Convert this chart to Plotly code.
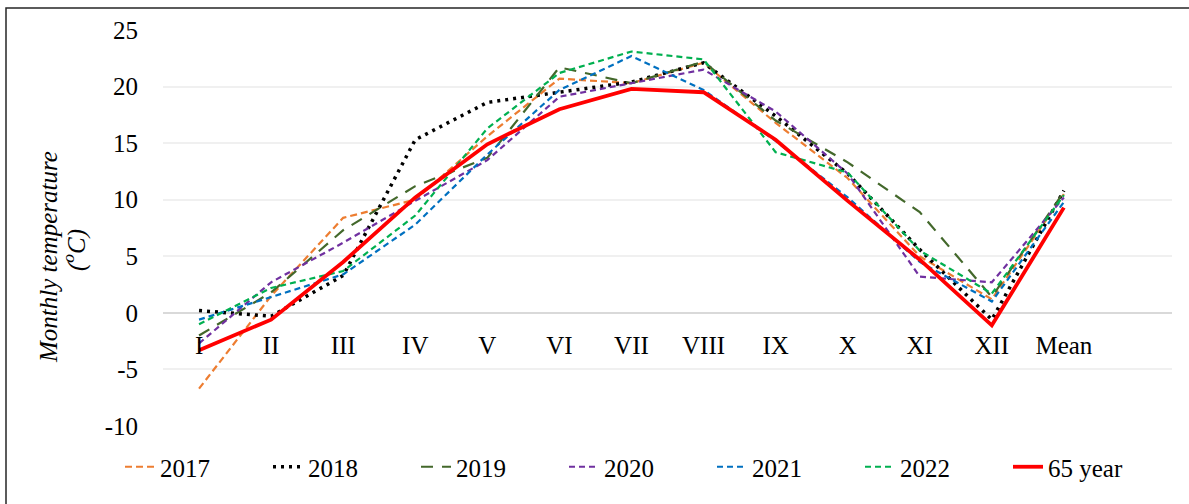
import plotly.graph_objects as go

months = ["I", "II", "III", "IV", "V", "VI", "VII", "VIII", "IX", "X", "XI", "XII", "Mean"]
y_ticks = [-10, -5, 0, 5, 10, 15, 20, 25]
y_tick_text = ["-10", "-5", "0", "5", "10", "15", "20", "25"]

t2017 = [-6.7, 1.5, 8.4, 10.0, 15.6, 20.7, 20.3, 22.1, 16.8, 11.9, 5.0, 1.2, 10.5]
t2018 = [0.2, -0.3, 3.3, 15.3, 18.6, 19.5, 20.4, 22.1, 17.4, 12.3, 5.6, -0.6, 10.8]
t2019 = [-2.0, 1.8, 7.3, 11.2, 13.7, 21.7, 20.3, 22.2, 17.0, 13.3, 8.9, 1.4, 10.7]
t2020 = [-2.7, 2.7, 6.2, 9.9, 13.5, 19.1, 20.3, 21.5, 17.8, 12.3, 3.2, 2.7, 10.2]
t2021 = [-0.6, 1.4, 3.4, 7.8, 14.0, 19.7, 22.7, 19.7, 15.2, 10.2, 4.5, 1.0, 9.8]
t2022 = [-1.0, 2.2, 3.7, 8.6, 16.3, 21.2, 23.1, 22.4, 14.2, 12.4, 5.5, 1.7, 10.4]
t65 = [-3.3, -0.6, 4.5, 10.2, 14.9, 18.0, 19.8, 19.5, 15.3, 9.9, 4.7, -1.1, 9.3]

FONT = "Times New Roman, Liberation Serif, serif"
x = list(range(len(months)))

series = [
    ("2017", t2017, "#ED7D31", 2.2, "7px,4px"),
    ("2018", t2018, "#000000", 3.5, "3px,5px"),
    ("2019", t2019, "#43682B", 2.2, "12px,9px"),
    ("2020", t2020, "#7030A0", 2.2, "6px,4px"),
    ("2021", t2021, "#0070C0", 2.2, "6px,4px"),
    ("2022", t2022, "#00B050", 2.2, "6px,4px"),
    ("65 year", t65, "#FF0000", 3.8, "solid"),
]

fig = go.Figure()
for name, vals, color, w, dash in series:
    fig.add_trace(go.Scatter(x=x, y=vals, mode="lines", name=name,
                             line=dict(color=color, width=w, dash=dash)))

# pixel helpers for plot area 163..1172 x 30..426
def px(v):
    return (v - 163) / 1009


def py(v):
    return (426 - v) / 396


fig.update_layout(
    width=1189, height=504,
    margin=dict(l=163, r=17, t=30, b=78),
    paper_bgcolor="white", plot_bgcolor="white",
    font=dict(family=FONT, size=25, color="#000000"),
    showlegend=True,
    legend=dict(orientation="h", x=px(120), xanchor="left", y=py(467), yanchor="middle",
                entrywidth=103, entrywidthmode="pixels", font=dict(size=25),
                bgcolor="rgba(0,0,0,0)", itemwidth=30),
    xaxis=dict(range=[-0.5, 13.5], tickvals=x, ticktext=months, showgrid=False,
               zeroline=False, showline=False, anchor="free", position=10 / 35,
               ticks="outside", ticklen=10, tickcolor="rgba(0,0,0,0)",
               tickfont=dict(size=25), automargin=False),
    yaxis=dict(range=[-10, 25], tickvals=y_ticks, ticktext=y_tick_text, showgrid=True,
               gridcolor="#F0F0F0", gridwidth=1.5, zeroline=True, zerolinecolor="#D9D9D9",
               zerolinewidth=1.5, showline=False, ticks="", tickfont=dict(size=25),
               ticklabelstandoff=24, automargin=False),
    annotations=[
        dict(text="<i>Monthly temperature</i>", textangle=-90, xref="paper", yref="paper",
             x=px(48), y=py(257), showarrow=False, font=dict(size=25),
             xanchor="center", yanchor="middle"),
        dict(text="<i>(<sup>o</sup>C)</i>", textangle=-90, xref="paper", yref="paper",
             x=px(74), y=py(250), showarrow=False, font=dict(size=25),
             xanchor="center", yanchor="middle"),
    ],
    shapes=[dict(type="rect", xref="paper", yref="paper",
                 x0=px(6), x1=1.2, y0=-0.3, y1=py(8),
                 line=dict(color="#262626", width=1.5), layer="below")],
)

fig.write_html("out.html", config={"displayModeBar": False},
               post_script="document.body.style.margin='0px';")
